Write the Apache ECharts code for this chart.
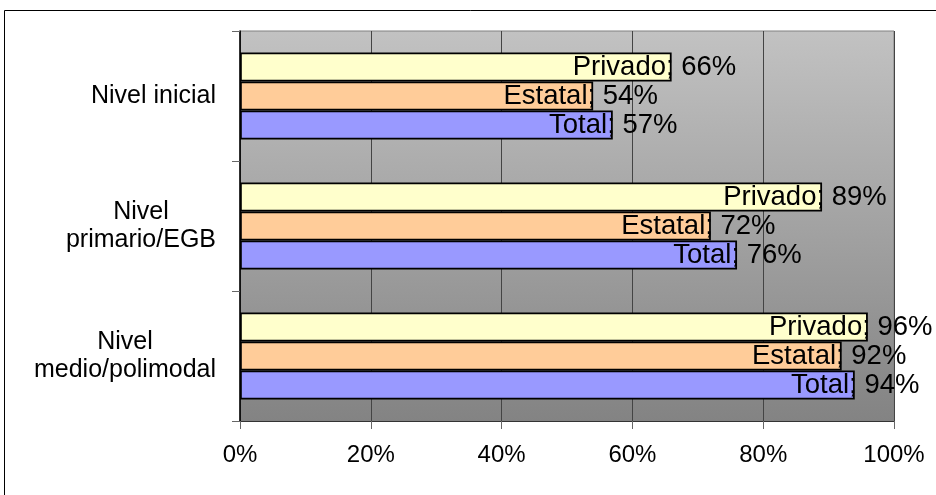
<!DOCTYPE html>
<html><head><meta charset="utf-8">
<script src="https://cdn.jsdelivr.net/npm/echarts@6/dist/echarts.min.js"></script>
<style>html,body{margin:0;padding:0;background:#fff}#c{width:936px;height:495px}</style>
</head><body><div id="c"></div>
<script>
const categories = ['Nivel inicial', 'Nivel\nprimario/EGB', 'Nivel\nmedio/polimodal'];
const seriesNames = ['Privado', 'Estatal', 'Total'];
const privado = [66, 89, 96];
const estatal = [54, 72, 92];
const total = [57, 76, 94];
const seriesColors = ['#FFFFCC', '#FFCC99', '#9999FF'];

const FONT = 'Liberation Sans, Arial, sans-serif';
const LABEL_SIZE = 27.5;
const CAT_SIZE = 25;
const ctx = document.createElement('canvas').getContext('2d');
ctx.font = LABEL_SIZE + 'px ' + FONT;
function nameWidth(n) { return ctx.measureText(n + ';').width; }

const values = [privado, estatal, total];
const chart = echarts.init(document.getElementById('c'), null, {renderer: 'canvas'});
chart.setOption({
  animation: false,
  backgroundColor: '#fff',
  graphic: [{
    type: 'rect', z: -10, silent: true,
    shape: {x: 4.5, y: 10.5, width: 1000, height: 1000},
    style: {fill: 'none', stroke: '#000', lineWidth: 1}
  }],
  grid: {
    left: 240, right: 42, top: 31, bottom: 74,
    show: true,
    backgroundColor: new echarts.graphic.LinearGradient(0, 0, 0, 1, [
      {offset: 0, color: '#c2c2c2'}, {offset: 1, color: '#838383'}
    ]),
    borderColor: '#808080', borderWidth: 1
  },
  xAxis: {
    type: 'value', min: 0, max: 100, interval: 20,
    axisLine: {show: true, lineStyle: {color: '#333', width: 1}},
    axisTick: {show: true, length: 8, lineStyle: {color: '#666'}},
    axisLabel: {formatter: '{value}%', fontSize: 24, color: '#000', fontFamily: FONT, margin: 22},
    splitLine: {show: true, lineStyle: {color: '#444', width: 1}}
  },
  yAxis: {
    type: 'category', inverse: true, data: categories,
    axisLine: {show: true, lineStyle: {color: '#000', width: 1.5}},
    axisTick: {show: true, length: 8, lineStyle: {color: '#666'}},
    axisLabel: {
      margin: 24, color: '#000', fontFamily: FONT, fontSize: CAT_SIZE,
      formatter: v => v.split('\n').map(s => '{c|' + s + '}').join('\n'),
      rich: {c: {align: 'center', fontSize: CAT_SIZE, fontFamily: FONT, color: '#000', lineHeight: 28}}
    }
  },
  series: seriesNames.map((n, i) => ({
    type: 'bar', name: n, data: values[i],
    barGap: '0%', barCategoryGap: '33%',
    itemStyle: {color: seriesColors[i], borderColor: '#000', borderWidth: 1.8},
    label: {
      show: true, position: 'right', distance: 0,
      offset: [-nameWidth(n) + 2, 0],
      formatter: p => n + '; ' + p.value + '%',
      fontSize: LABEL_SIZE, fontFamily: FONT, color: '#000'
    }
  }))
});
</script></body></html>
